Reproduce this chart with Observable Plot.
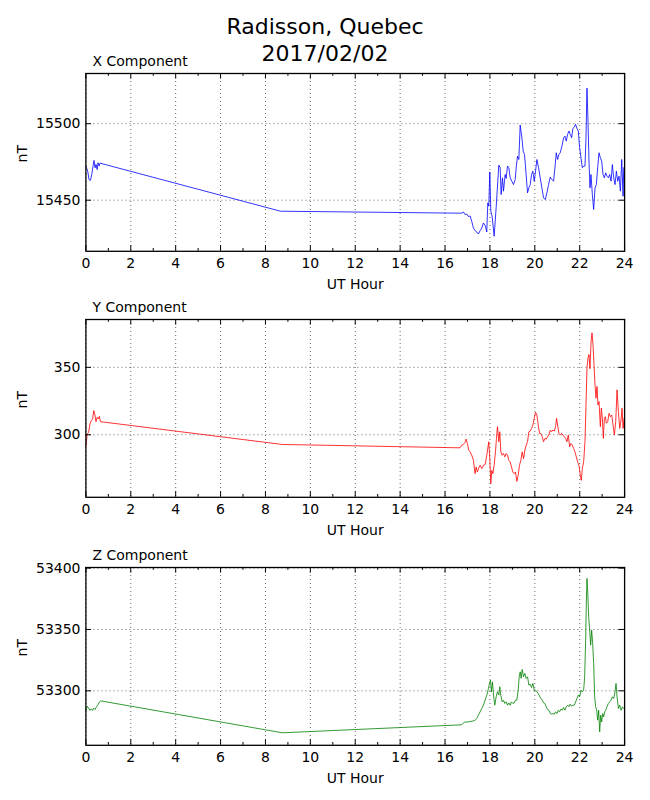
<!DOCTYPE html>
<html><head><meta charset="utf-8">
<script src="https://cdn.jsdelivr.net/npm/d3@7"></script>
<script src="https://cdn.jsdelivr.net/npm/@observablehq/plot@0.6"></script>
<style>
html,body{margin:0;padding:0;background:#fff;}
#page{position:relative;width:650px;height:800px;background:#fff;font-family:"DejaVu Sans",sans-serif;color:#000;overflow:hidden;}
.title{position:absolute;left:0;width:650px;text-align:center;font-size:22px;line-height:27px;}
.panel{position:absolute;left:0;width:650px;}
</style></head><body>
<div id="page">
<div class="title" style="top:13.2px">Radisson, Quebec<br>2017/02/02</div>
</div>
<script>
// ---- data (UT hour, nT) ----
const majorHours = [0,2,4,6,8,10,12,14,16,18,20,22,24];
const minorHours = [1,3,5,7,9,11,13,15,17,19,21,23];

const xTicks = [15450, 15500];
const yTicks = [300, 350];
const zTicks = [53300, 53350, 53400];

const xHours = [0,0.08,0.14,0.2,0.26,0.32,0.36,0.41,0.45,0.5,0.54,0.59,0.63,8.67,
16.744,16.818,16.893,16.967,17.042,17.116,17.190,17.265,17.339,17.414,17.488,17.563,17.637,17.711,17.786,17.860,17.905,17.949,17.994,18.039,18.098,18.188,18.277,18.351,18.396,18.455,18.500,18.560,18.604,18.679,18.723,18.783,18.842,18.902,18.976,19.051,19.125,19.170,19.229,19.289,19.348,19.423,19.482,19.542,19.601,19.676,19.735,19.795,19.854,19.914,19.973,20.033,20.092,20.167,20.241,20.315,20.390,20.464,20.539,20.613,20.688,20.762,20.836,20.911,20.955,21.015,21.074,21.134,21.208,21.283,21.342,21.402,21.461,21.521,21.580,21.640,21.699,21.759,21.818,21.878,21.938,21.997,22.057,22.116,22.176,22.235,22.280,22.324,22.369,22.414,22.458,22.503,22.563,22.622,22.682,22.741,22.801,22.860,22.920,22.979,23.039,23.098,23.158,23.217,23.277,23.336,23.396,23.455,23.515,23.574,23.634,23.693,23.753,23.813,23.872,23.932,23.961];
const xValues = [15472.3,15469.0,15463.5,15462.9,15466.8,15472.3,15476.0,15471.2,15473.4,15470.0,15474.5,15472.3,15474.2,15442.8,
15441.5,15442.3,15440.6,15441.0,15439.3,15439.7,15436.2,15431.8,15430.1,15429.2,15427.9,15430.1,15431.8,15435.1,15433.6,15429.2,15448.2,15446.1,15468.5,15442.8,15439.5,15426.4,15445.0,15462.4,15472.9,15471.2,15453.7,15464.6,15455.9,15466.8,15464.2,15472.3,15471.2,15464.6,15462.4,15460.2,15463.5,15471.2,15478.8,15476.6,15499.1,15490.8,15482.1,15479.9,15469.0,15454.8,15458.1,15460.2,15466.8,15469.0,15462.4,15469.0,15476.6,15471.2,15464.6,15458.1,15451.5,15450.4,15454.8,15460.2,15465.1,15463.5,15462.4,15473.3,15481.0,15476.6,15479.9,15481.0,15485.4,15490.8,15491.9,15488.6,15493.0,15495.2,15493.0,15490.8,15496.9,15497.8,15499.6,15496.9,15495.2,15484.3,15477.7,15471.2,15472.3,15472.3,15490.8,15523.2,15501.7,15475.5,15458.1,15466.8,15453.7,15443.9,15458.1,15460.2,15471.2,15481.0,15477.7,15475.5,15466.8,15464.6,15467.9,15465.7,15464.6,15466.8,15462.4,15473.3,15464.6,15460.2,15469.0,15462.4,15465.7,15455.9,15476.6,15452.6,15471.2];

const yHours = [0,0.06,0.12,0.18,0.24,0.3,0.35,0.41,0.45,0.5,0.56,0.6,0.65,8.75,
16.670,16.744,16.818,16.893,16.938,16.997,17.057,17.116,17.190,17.265,17.339,17.384,17.443,17.503,17.563,17.637,17.711,17.786,17.860,17.905,17.949,17.994,18.039,18.083,18.128,18.188,18.247,18.292,18.336,18.396,18.440,18.485,18.545,18.604,18.664,18.723,18.783,18.842,18.902,18.961,19.021,19.080,19.140,19.199,19.259,19.318,19.378,19.438,19.497,19.557,19.616,19.676,19.735,19.795,19.854,19.914,19.973,20.033,20.092,20.152,20.211,20.271,20.330,20.390,20.449,20.509,20.568,20.628,20.688,20.747,20.807,20.866,20.926,20.970,21.015,21.074,21.134,21.193,21.253,21.313,21.372,21.432,21.491,21.551,21.610,21.670,21.729,21.789,21.848,21.908,21.967,22.027,22.071,22.116,22.176,22.235,22.280,22.324,22.369,22.414,22.458,22.503,22.548,22.592,22.637,22.682,22.726,22.771,22.815,22.860,22.920,22.964,23.009,23.054,23.098,23.143,23.188,23.247,23.307,23.366,23.426,23.485,23.545,23.604,23.664,23.723,23.783,23.842,23.887,23.932,23.976];
const yValues = [291.8,300.5,301.7,308.0,310.4,311.7,317.9,314.0,309.7,312.9,311.7,313.7,309.7,292.8,
290.3,292.3,292.8,294.3,296.8,293.5,288.6,287.3,284.8,281.1,271.1,276.1,272.4,275.4,277.4,274.9,277.4,277.9,284.8,289.8,294.8,282.3,263.7,273.6,271.1,277.4,287.3,297.3,306.0,294.8,302.2,287.3,284.8,286.1,283.6,286.1,284.8,281.1,279.9,276.1,272.4,271.1,272.4,265.4,269.9,277.4,281.1,287.3,282.3,288.6,292.3,294.8,302.2,302.7,304.7,307.2,312.2,316.7,314.7,307.2,301.0,301.0,298.5,294.8,297.3,296.8,298.5,300.2,303.5,302.2,303.5,302.7,306.0,312.2,307.2,301.0,299.8,301.0,299.8,298.5,297.3,294.8,299.8,291.0,293.5,292.3,289.8,287.3,283.6,279.9,277.4,269.9,266.2,274.9,279.9,294.8,322.1,349.5,357.0,359.5,349.0,368.2,375.6,366.9,352.0,337.1,327.1,335.8,322.1,324.6,306.0,319.7,312.2,297.3,312.2,313.4,308.5,309.7,315.9,313.4,314.7,307.2,299.8,309.7,333.3,317.2,304.7,310.9,319.7,304.7,312.2];

const zHours = [0,0.06,0.12,0.18,0.24,0.3,0.35,0.41,0.47,0.54,0.6,0.66,8.75,
16.744,16.818,16.893,16.967,17.116,17.265,17.339,17.414,17.488,17.563,17.637,17.711,17.786,17.860,17.935,17.979,18.024,18.068,18.113,18.158,18.217,18.277,18.336,18.396,18.440,18.485,18.545,18.604,18.664,18.723,18.783,18.842,18.902,18.961,19.021,19.080,19.140,19.199,19.259,19.304,19.348,19.393,19.438,19.497,19.557,19.616,19.676,19.735,19.795,19.854,19.914,19.973,20.033,20.092,20.152,20.211,20.271,20.330,20.390,20.449,20.509,20.568,20.628,20.688,20.747,20.807,20.866,20.926,20.985,21.045,21.104,21.164,21.223,21.283,21.342,21.402,21.461,21.521,21.580,21.640,21.699,21.759,21.818,21.878,21.938,21.997,22.057,22.116,22.176,22.220,22.265,22.295,22.324,22.354,22.399,22.443,22.488,22.533,22.577,22.622,22.667,22.711,22.756,22.801,22.845,22.890,22.935,22.979,23.024,23.068,23.113,23.158,23.217,23.277,23.336,23.396,23.455,23.515,23.574,23.619,23.664,23.723,23.783,23.842,23.902,23.961];
const zValues = [53284.0,53287.5,53285.9,53284.0,53285.3,53284.0,53285.9,53284.8,53287.0,53288.6,53290.8,53291.8,53265.8,
53272.3,53273.9,53274.7,53274.5,53275.0,53275.5,53276.1,53277.4,53280.2,53282.9,53285.6,53288.3,53292.4,53296.5,53301.9,53306.0,53308.7,53299.2,53307.3,53296.5,53288.3,53295.1,53299.2,53296.5,53303.3,53296.5,53291.0,53292.4,53289.7,53291.0,53288.3,53290.2,53288.3,53291.0,53289.7,53290.2,53292.4,53292.4,53300.5,53311.4,53315.5,53310.1,53317.4,53311.4,53314.1,53310.1,53311.4,53304.6,53305.4,53302.7,53306.0,53300.5,53300.5,53299.2,53297.8,53295.7,53293.8,53292.4,53290.2,53289.7,53287.0,53284.8,53284.2,53281.5,53281.0,53281.5,53281.0,53282.9,53281.5,53284.2,53282.9,53285.1,53284.2,53286.4,53284.2,53287.0,53288.3,53287.0,53289.1,53287.5,53288.3,53288.3,53291.0,53293.8,53296.5,53295.1,53300.5,53299.2,53300.5,53311.4,53341.3,53371.2,53391.6,53382.1,53360.3,53349.5,53337.2,53349.5,53338.6,53322.3,53295.1,53287.0,53284.2,53276.1,53284.2,53266.6,53280.2,53274.7,53281.5,53278.8,53282.9,53284.2,53287.0,53289.7,53291.0,53292.4,53295.1,53293.8,53299.2,53306.0,53295.1,53285.6,53288.3,53284.2,53287.0,53285.6];

const xDomain = [15416.6, 15532.8];
const yDomain = [253.6, 385.5];
const zDomain = [53255.6, 53400.5];

// ---- layout ----
const ML = 85.4, MR = 25.9, MT = 24, MB = 46;
const frameH = 177.8, frameW = 650 - ML - MR;
const page = document.getElementById("page");

function panel({title, hours, values, domain, ticks, color, frameTop}) {
  const n = Math.min(hours.length, values.length);
  const data = hours.slice(0, n).map((h, i) => ({h, v: values[i]}));
  const ink = {stroke: "black", strokeWidth: 1};
  const svg = Plot.plot({
    width: 650,
    height: MT + frameH + MB,
    marginLeft: ML, marginRight: MR, marginTop: MT, marginBottom: MB,
    style: {fontFamily: "DejaVu Sans", fontSize: "14px", color: "black", background: "transparent", overflow: "visible"},
    x: {domain: [0, 24], label: null},
    y: {domain, label: null},
    marks: [
      Plot.gridX(majorHours, {stroke: "black", strokeOpacity: 1, strokeWidth: 0.6, strokeDasharray: "1,3"}),
      Plot.gridY(ticks, {stroke: "black", strokeOpacity: 1, strokeWidth: 0.6, strokeDasharray: "1,3"}),
      Plot.line(data, {x: "h", y: "v", stroke: color, strokeWidth: 0.8}),
      Plot.tickX(majorHours, {x: d => d, insetTop: frameH - 5.6, ...ink}),
      Plot.tickX(majorHours, {x: d => d, insetBottom: frameH - 5.6, ...ink}),
      Plot.tickX(minorHours, {x: d => d, insetTop: frameH - 2.8, ...ink}),
      Plot.tickX(minorHours, {x: d => d, insetBottom: frameH - 2.8, ...ink}),
      Plot.tickY(ticks, {y: d => d, insetRight: frameW - 5.6, ...ink}),
      Plot.tickY(ticks, {y: d => d, insetLeft: frameW - 5.6, ...ink}),
      Plot.frame({stroke: "black", strokeWidth: 1.3}),
      Plot.axisX(majorHours, {tickSize: 0, tickPadding: 6.5, fontSize: 14, tickFormat: d => String(d), label: null}),
      Plot.axisY(ticks, {tickSize: 0, tickPadding: 5.4, fontSize: 14, tickFormat: d => String(d), label: null}),
      Plot.text([title], {text: d => d, frameAnchor: "top-left", textAnchor: "start", lineAnchor: "bottom", dx: 6.6, dy: -7.7, fontSize: 14, fill: "black"}),
      Plot.text(["nT"], {text: d => d, frameAnchor: "left", rotate: -90, dx: -63, fontSize: 14, fill: "black"}),
      Plot.text(["UT Hour"], {text: d => d, frameAnchor: "bottom", lineAnchor: "bottom", dy: 38, fontSize: 14, fill: "black"})
    ]
  });
  const wrap = document.createElement("div");
  wrap.className = "panel";
  wrap.style.top = (frameTop - MT) + "px";
  wrap.appendChild(svg);
  page.appendChild(wrap);
}

panel({title: "X Component", hours: xHours, values: xValues, domain: xDomain, ticks: xTicks, color: "#0000ff", frameTop: 72.5});
panel({title: "Y Component", hours: yHours, values: yValues, domain: yDomain, ticks: yTicks, color: "#ff0000", frameTop: 319.3});
panel({title: "Z Component", hours: zHours, values: zValues, domain: zDomain, ticks: zTicks, color: "#008000", frameTop: 566.8});
</script>
</body></html>
